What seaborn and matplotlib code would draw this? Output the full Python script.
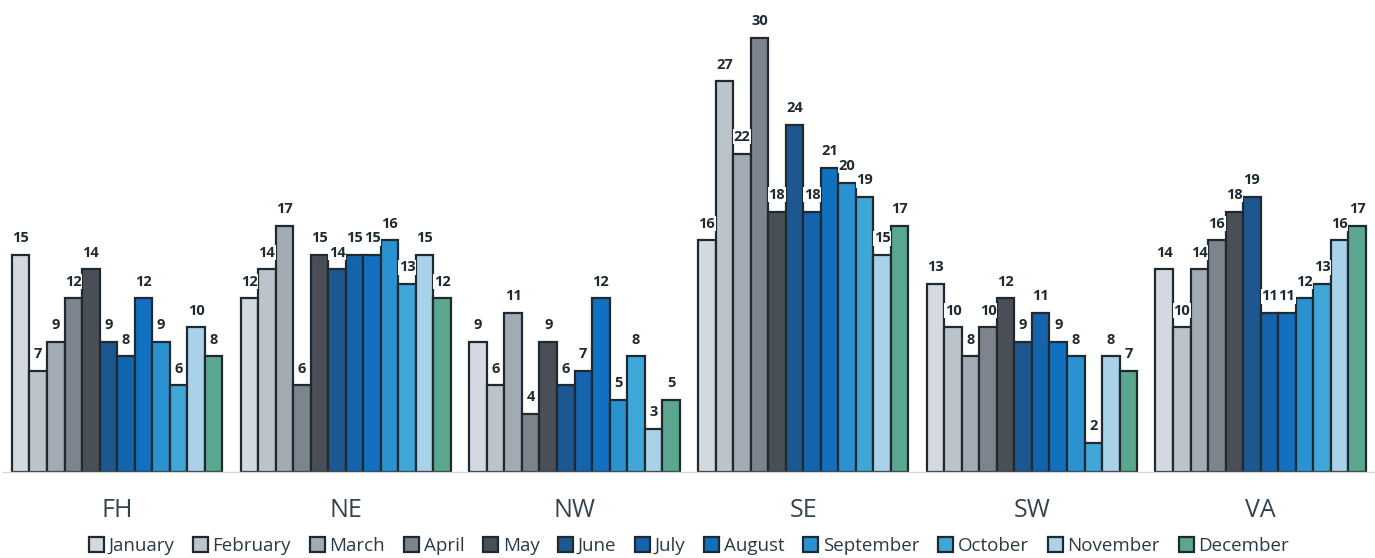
import matplotlib
matplotlib.use("Agg")
import matplotlib.pyplot as plt
import seaborn as sns
import pandas as pd

regions = ["FH", "NE", "NW", "SE", "SW", "VA"]
months = ["January", "February", "March", "April", "May", "June", "July",
          "August", "September", "October", "November", "December"]

fh = [15, 7, 9, 12, 14, 9, 8, 12, 9, 6, 10, 8]
ne = [12, 14, 17, 6, 15, 14, 15, 15, 16, 13, 15, 12]
nw = [9, 6, 11, 4, 9, 6, 7, 12, 5, 8, 3, 5]
se = [16, 27, 22, 30, 18, 24, 18, 21, 20, 19, 15, 17]
sw = [13, 10, 8, 10, 12, 9, 11, 9, 8, 2, 8, 7]
va = [14, 10, 14, 16, 18, 19, 11, 11, 12, 13, 16, 17]

series = [fh, ne, nw, se, sw, va]

colors = ["#d3d9de", "#bcc4cb", "#a2abb4", "#7d848e", "#4a4f57", "#1d578f",
          "#1463ad", "#1170bf", "#2b92d2", "#3fa6d8", "#a9d1e8", "#5ba68e"]

rows = []
for r, vals in zip(regions, series):
    for m, v in zip(months, vals):
        rows.append({"region": r, "month": m, "count": v})
df = pd.DataFrame(rows)

sns.set_style("white")
plt.rcParams["font.family"] = ["Open Sans", "DejaVu Sans"]

fig = plt.figure(figsize=(13.75, 5.58), dpi=100)
ax = fig.add_axes([0.002, 0.154, 0.998, 0.83])

sns.barplot(data=df, x="region", y="count", hue="month", order=regions,
            hue_order=months, palette=colors, width=0.92, ax=ax,
            edgecolor="#1f2a30", linewidth=1.6, saturation=1, legend=True)

for cont in ax.containers:
    texts = ax.bar_label(cont, padding=7, fontsize=10.5, fontweight="bold",
                         color="#1f2a30")
    for t in texts:
        t.set_bbox(dict(facecolor="white", edgecolor="none", pad=0.3))

ax.set_ylim(0, 32)
ax.set_xlim(-0.5, 5.5)
ax.set_xlabel("")
ax.set_ylabel("")
ax.set_yticks([])
ax.tick_params(axis="x", length=0, pad=19, labelsize=18, labelcolor="#34444f")
for s in ["top", "left", "right"]:
    ax.spines[s].set_visible(False)
ax.spines["bottom"].set_color("#d8d8d8")
ax.spines["bottom"].set_linewidth(1.0)

handles, labels = ax.get_legend_handles_labels()
ax.legend(handles, labels, loc="center", bbox_to_anchor=(0.5, -0.16),
          ncol=12, frameon=False, fontsize=13.5, handlelength=0.8,
          handleheight=0.8, handletextpad=0.25, columnspacing=1.0,
          labelcolor="#2a3a45", borderpad=0.0)

fig.savefig("out.png", dpi=100, facecolor="white")
